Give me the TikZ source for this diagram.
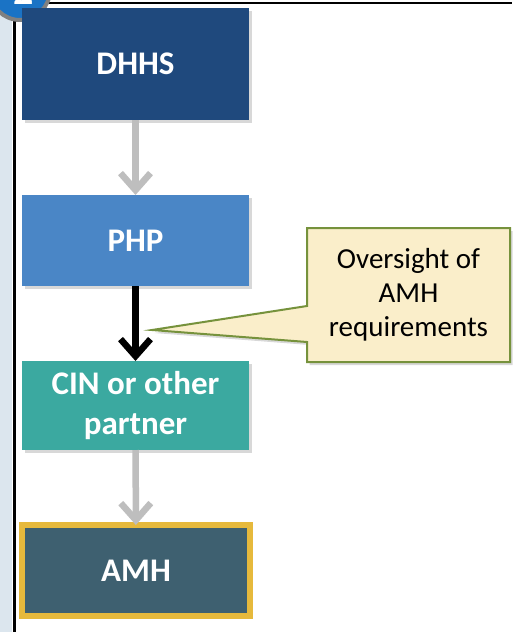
\documentclass[tikz,border=0pt]{standalone}
\usepackage{fontspec}
\setmainfont{Carlito}
\usetikzlibrary{arrows.meta,shadows}

\definecolor{dhhsblue}{RGB}{31,73,125}
\definecolor{phpblue}{RGB}{74,134,198}
\definecolor{cinteal}{RGB}{59,169,160}
\definecolor{amhslate}{RGB}{62,96,112}
\definecolor{amhgold}{RGB}{230,185,60}
\definecolor{notefill}{RGB}{250,238,202}
\definecolor{noteline}{RGB}{118,146,60}
\definecolor{linkgray}{RGB}{190,190,190}
\definecolor{stripblue}{RGB}{220,230,238}
\definecolor{badgeblue}{RGB}{26,115,197}

\begin{document}
\begin{tikzpicture}[x=1pt,y=-1pt,
		box/.style={rectangle, inner sep=0pt, outer sep=0pt, minimum width=227pt, text=white, align=center,
			font=\fontsize{33}{40}\selectfont\bfseries,
			drop shadow={shadow xshift=2.5pt, shadow yshift=-3pt, opacity=.3}},
		link/.style={line width=6.5pt, draw=linkgray, -{Straight Barb[length=17pt, width=30pt]}},
		notebox/.style={fill=notefill, draw=noteline, line width=2pt, line join=miter,
			drop shadow={shadow xshift=2.5pt, shadow yshift=-3pt, opacity=.3}}]
				\useasboundingbox (0,0) rectangle (512,632);
				\fill[white] (0,0) rectangle (512,632);
				\fill[stripblue] (0,0) rectangle (12,632);
				\draw[line width=3pt] (14,18) -- (14,632);
				\draw[line width=2.5pt] (40,3) -- (512,3);
				\draw[fill=badgeblue, draw=gray, line width=4pt] (20,-10) circle (30pt);
				\node[anchor=base, text=white, font=\fontsize{40}{40}\selectfont\bfseries] (badge) at (24,4) {2};
				\node[box, fill=dhhsblue, minimum height=112pt] (dhhs) at (135.5,64) {DHHS};
				\node[box, fill=phpblue, minimum height=91pt] (php) at (135.5,240.5) {PHP};
				\node[box, fill=cinteal, minimum height=89pt] (cin) at (135.5,405.5) {CIN or other\\partner};
				\node[box, fill=amhslate, draw=amhgold, line width=6pt, minimum width=228pt, minimum height=91pt] (amh) at (136,570.5) {AMH};
				\draw[link] (dhhs) -- (php);
				\draw[link, draw=black] (php) -- (cin);
				\draw[link] (cin) -- (amh);
				\node[inner sep=0pt, outer sep=0pt, minimum width=203pt, minimum height=134pt] (note) at (408.5,295) {};
				\coordinate (tip) at (152,330);
				\draw[notebox] (note.north west) -- (note.north east) -- (note.south east) -- (note.south west)
					-- ([yshift=20pt]note.south west) -- (tip) -- ([yshift=-78pt]note.north west) -- cycle;
				\node[align=center, font=\fontsize{29}{34}\selectfont] (notetext) at (note) {Oversight of\\AMH\\requirements};
 			\end{tikzpicture}
\end{document}
